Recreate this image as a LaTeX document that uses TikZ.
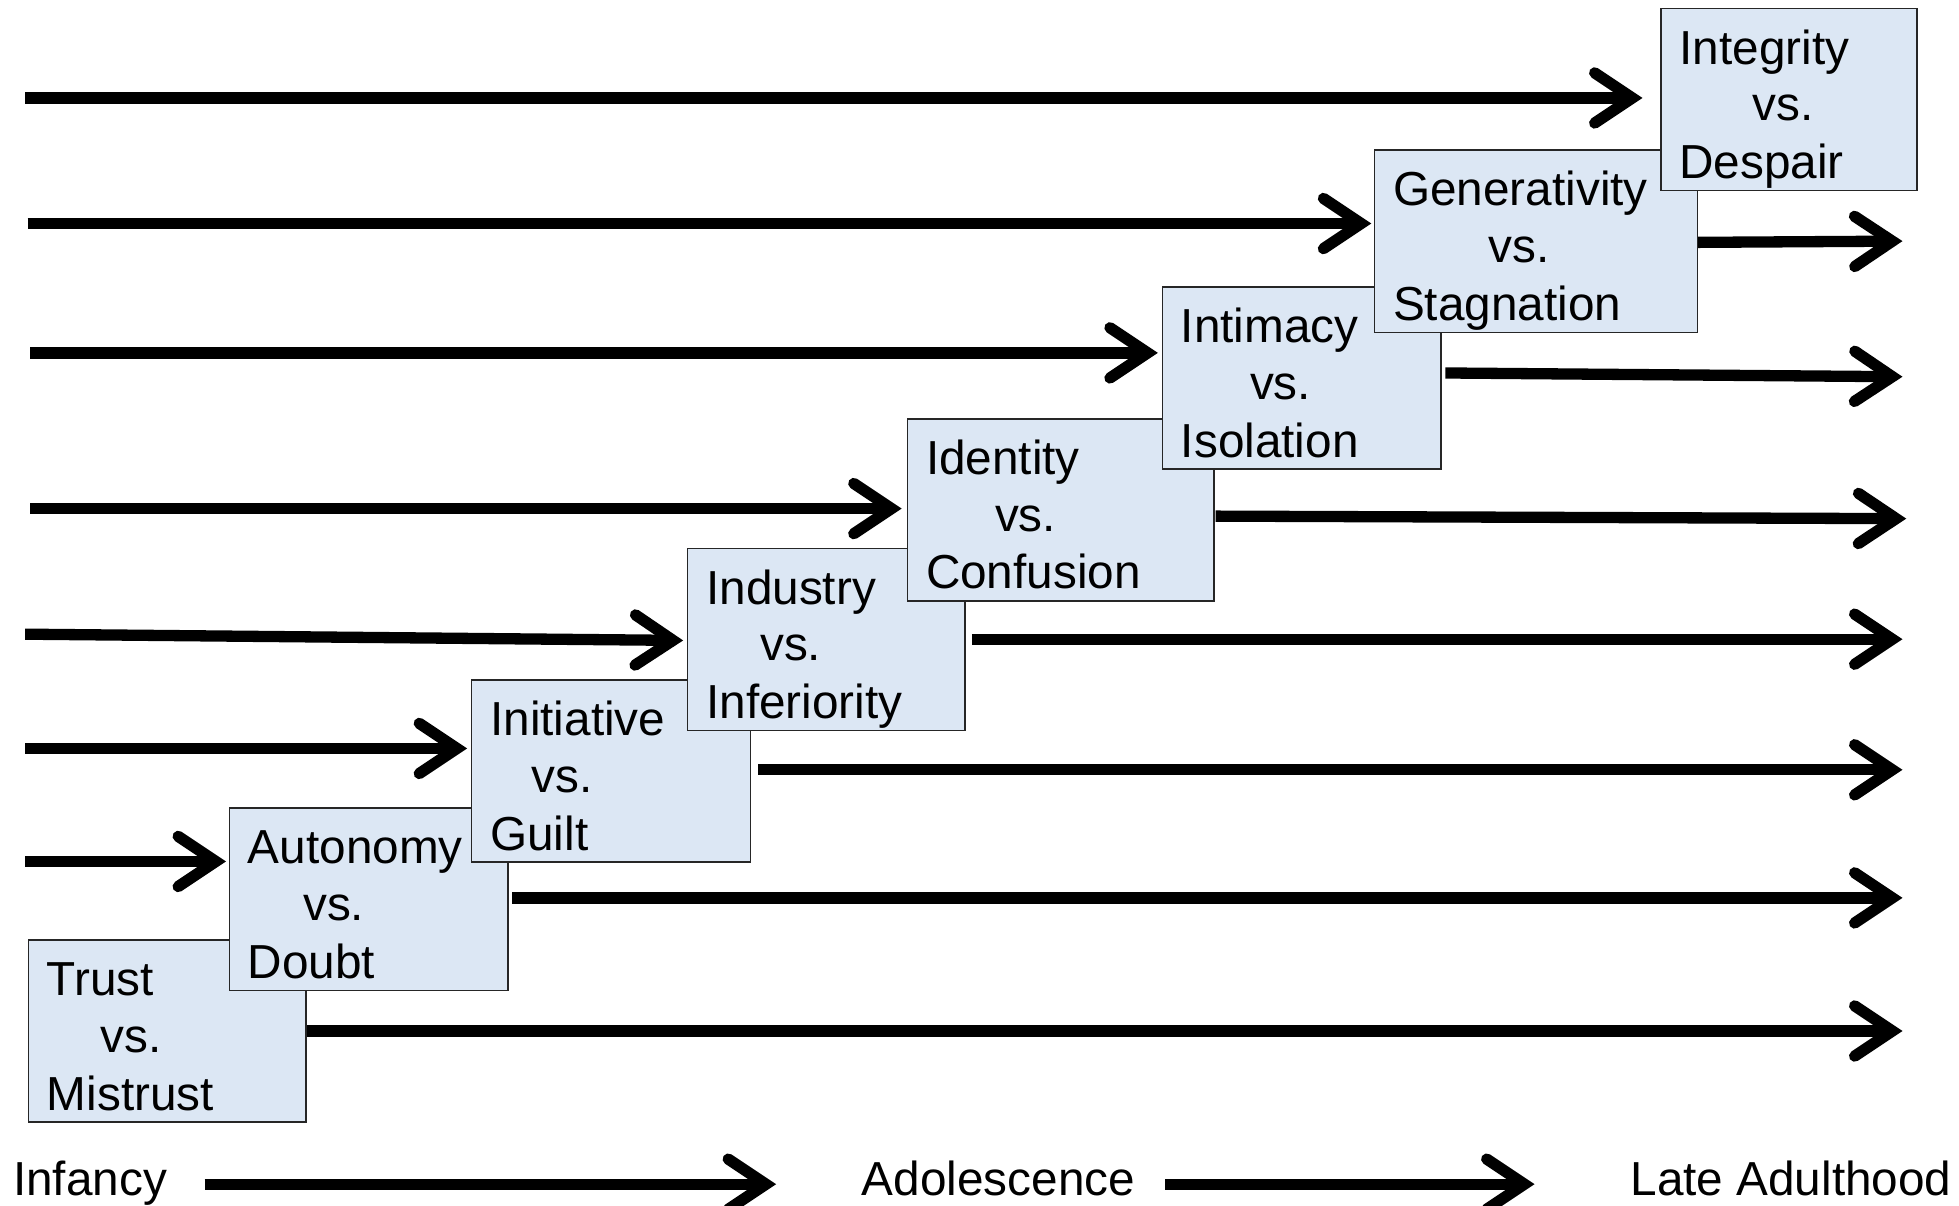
\documentclass[tikz,border=0pt]{standalone}
\usepackage{fontspec}
\setmainfont{Liberation Sans}
\usetikzlibrary{arrows.meta,calc}
\definecolor{boxblue}{RGB}{220,231,244}
\tikzset{
  stage/.style={draw=black!85, line width=0.6pt, fill=boxblue, anchor=north west,
    minimum height=72.5pt, inner sep=0pt},
  lbl/.style={font=\fontsize{19}{23}\selectfont, anchor=base west, inner sep=0pt},
  arr/.style={line width=4.5pt, -{Straight Barb[length=15pt,width=20pt,line cap=round]}},
}
\newcommand\stagebox[7]{%
  \node[stage, minimum width={(#4-#2)*0.5pt}] (#1) at (#2,#3) {};
  \node[lbl] (#1a) at ($(#1.north west)+(15,45)$) {#5};
  \node[lbl] (#1b) at ($(#1.north west)+(#6,90)$) {vs.};
  \node[lbl] (#1c) at ($(#1.north west)+(15,136)$) {#7};
}
\begin{document}
\begin{tikzpicture}[x=0.5pt,y=-0.5pt]
\useasboundingbox (0,0) rectangle (1560,959.6);

% left incoming arrows
\coordinate (l8) at (20,78);   \coordinate (e8) at (1308,78);
\coordinate (l7) at (22,178);  \coordinate (e7) at (1092,178);
\coordinate (l6) at (24,281);  \coordinate (e6) at (922,281);
\coordinate (l5) at (24,405);  \coordinate (e5) at (718,405);
\coordinate (l4) at (20,505);  \coordinate (e4) at (544,510);
\coordinate (l3) at (20,596);  \coordinate (e3) at (372,596);
\coordinate (l2) at (20,686);  \coordinate (e2) at (180,686);

% right outgoing arrows
\coordinate (s1) at (243,821);  \coordinate (r1) at (1515,821);
\coordinate (s2) at (408,715);  \coordinate (r2) at (1515,715);
\coordinate (s3) at (604,613);  \coordinate (r3) at (1515,613);
\coordinate (s4) at (774,509);  \coordinate (r4) at (1515,509);
\coordinate (s5) at (968,411);  \coordinate (r5) at (1518,413);
\coordinate (s6) at (1151,297); \coordinate (r6) at (1515,300);
\coordinate (s7) at (1351,193); \coordinate (r7) at (1515,192);

\foreach \i in {2,...,8} {\draw[arr] (l\i) -- (e\i);}
\foreach \i in {1,...,7} {\draw[arr] (s\i) -- (r\i);}

% stage boxes
\stagebox{trust}{22}{748}{243}{Trust}{58}{Mistrust}
\stagebox{auton}{182}{643}{404}{Autonomy}{59}{Doubt}
\stagebox{init}{375}{541}{597}{Initiative}{48}{Guilt}
\stagebox{indus}{547}{436}{768}{Industry}{58}{Inferiority}
\stagebox{ident}{722}{333}{966}{Identity}{70}{Confusion}
\stagebox{intim}{925}{228}{1147}{Intimacy}{70}{Isolation}
\stagebox{gener}{1094}{119}{1351}{Generativity}{91}{Stagnation}
\stagebox{integ}{1322}{6}{1526}{Integrity}{73}{Despair}

% bottom timeline
\node[lbl] (infancy) at (10,952) {Infancy};
\node[lbl] (adol) at (686,952) {Adolescence};
\node[lbl] (late) at (1298,952) {Late Adulthood};
\coordinate (t1s) at (163,943); \coordinate (t1e) at (618,943);
\coordinate (t2s) at (928,943); \coordinate (t2e) at (1222,943);
\draw[arr] (t1s) -- (t1e);
\draw[arr] (t2s) -- (t2e);
\end{tikzpicture}
\end{document}
